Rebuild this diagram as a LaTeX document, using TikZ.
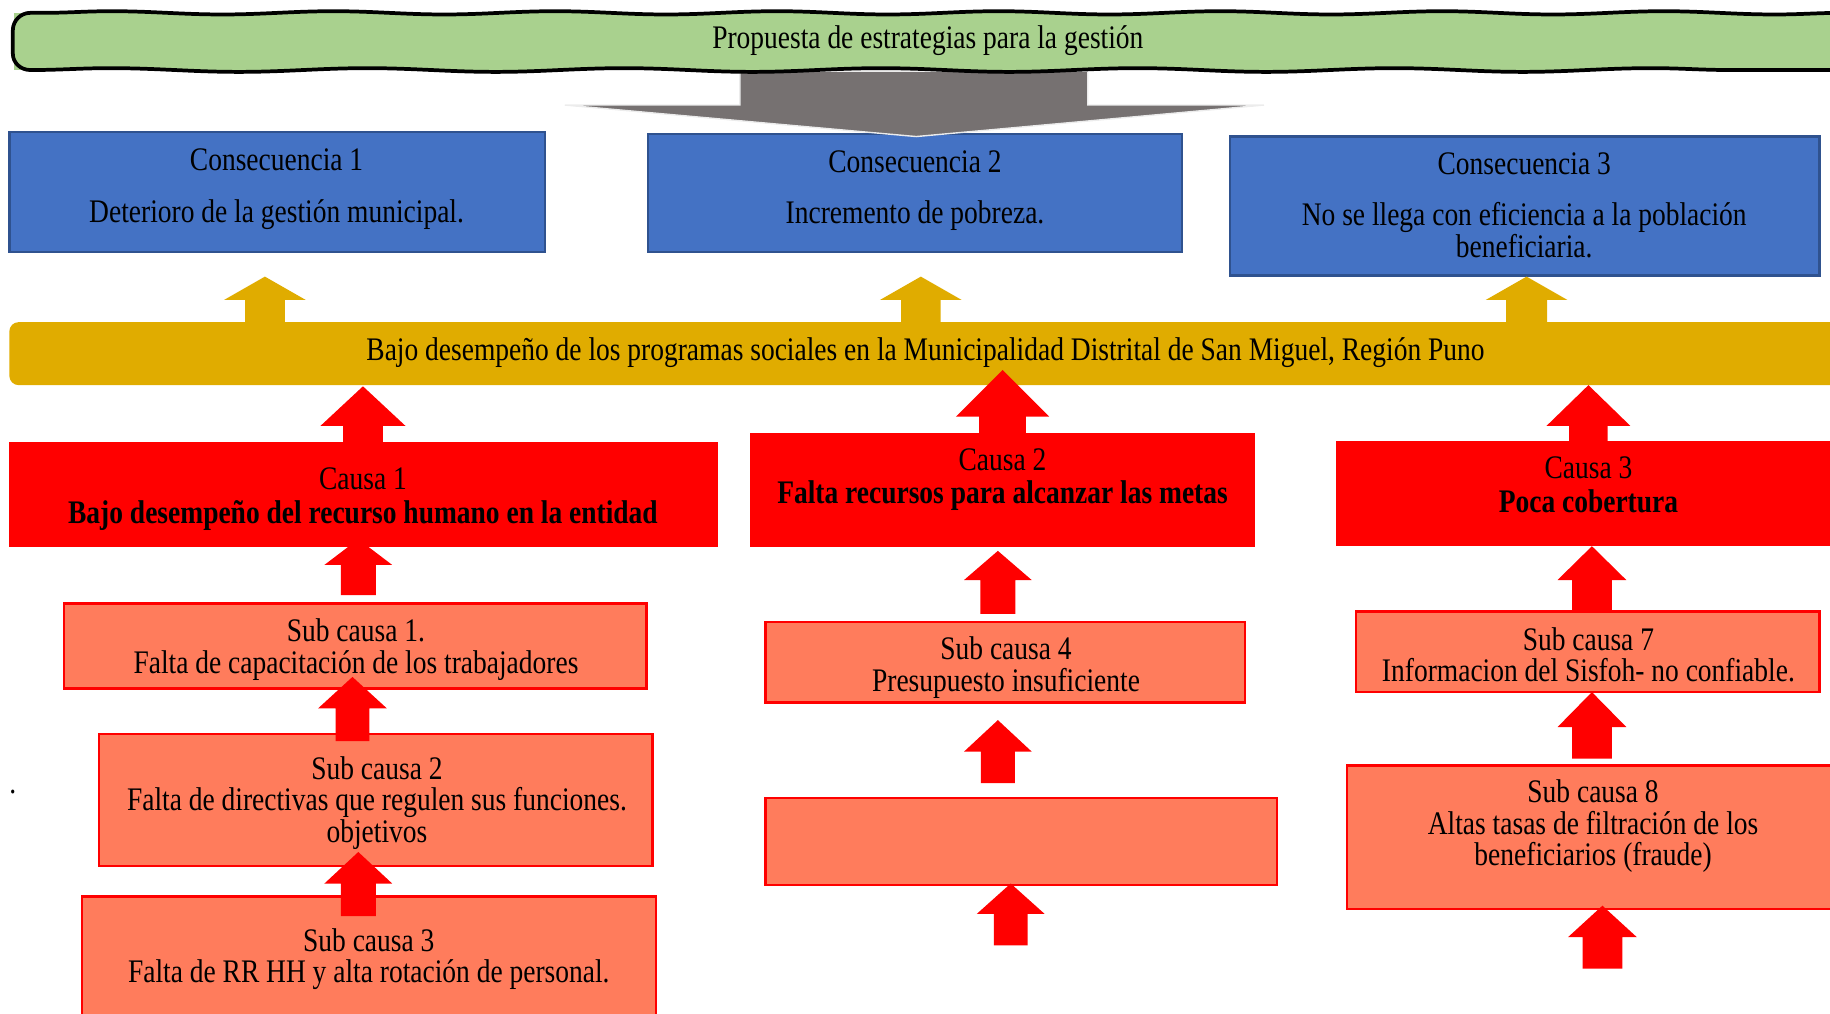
\documentclass[tikz,border=0pt]{standalone}
\usepackage{fontspec}
\setmainfont{Liberation Serif}[FakeStretch=0.835]
\usetikzlibrary{fit,decorations.pathmorphing}
\definecolor{bgreen}{RGB}{169,209,142}
\definecolor{agrey}{RGB}{118,113,113}
\definecolor{cblue}{RGB}{68,114,196}
\definecolor{cbluedark}{RGB}{47,82,143}
\definecolor{goldbar}{RGB}{224,172,0}
\definecolor{coral}{RGB}{255,124,92}
\definecolor{pured}{RGB}{255,0,0}
\newcommand\uparr[7]{\fill[#7] (#1,#2) -- ({#1+#5},#3) -- ({#1+#6},#3) -- ({#1+#6},#4) -- ({#1-#6},#4) -- ({#1-#6},#3) -- ({#1-#5},#3) -- cycle;}
\tikzset{
  consbox/.style={draw=cbluedark, line width=1pt, fill=cblue, inner sep=0pt},
  causabox/.style={fill=pured, inner sep=0pt},
  subbox/.style={draw=pured, line width=1pt, fill=coral, inner sep=0pt},
  txt/.style={align=center, inner sep=0pt, text=black},
}
\begin{document}
\begin{tikzpicture}[x=0.5pt,y=-0.5pt,font=\fontsize{14.1}{13.5}\selectfont]
\useasboundingbox (0,0) rectangle (1568,868);
\clip (0,0) rectangle (1568,868);

% consequence boxes
\node[consbox, fit={(8,113) (467,216)}] (c1) {};
\node[consbox, fit={(555,115) (1013,216)}] (c2) {};
\node[consbox, fit={(1054,117) (1559,236)}] (c3) {};
\node[txt] (c1t) at (237,162) {Consecuencia 1\\[8.5pt]Deterioro de la gestión municipal.};
\node[txt] (c2t) at (784,163.5) {Consecuencia 2\\[8.5pt]Incremento de pobreza.};
\node[txt] (c3t) at (1306,176) {Consecuencia 3\\[8.5pt]No se llega con eficiencia a la población\\beneficiaria.};

% grey arrow
\filldraw[fill=agrey, draw=white!85!gray, line width=0.6pt] (634,61) -- (932,61) -- (932,90) -- (1083,90) -- (785,117) -- (484,90) -- (634,90) -- cycle;

% banner
\node[fill=bgreen, inner sep=0pt, fit={(12,11) (1580,60)}] (prop) {};
\draw[line width=1.6pt, line join=round] decorate[decoration={snake, segment length=95pt, amplitude=0.7pt}] {(1580,11) -- (26,11)} to[out=180,in=90] (11,26) -- (11,46) to[out=-90,in=180] (26,60) decorate[decoration={snake, segment length=110pt, amplitude=0.8pt}] {-- (1580,60)};
\node[txt] (propt) at (795,35) {Propuesta de estrategias para la gestión};

% gold arrows and bar
\uparr{227}{237}{257}{278}{35}{17}{goldbar}
\uparr{789}{237}{257}{278}{35}{17}{goldbar}
\uparr{1308}{237}{257}{278}{35}{17.5}{goldbar}
\node[fill=goldbar, rounded corners=4pt, inner sep=0pt, fit={(8,276) (1590,330)}] (bar) {};
\node[txt] (bart) at (793,302) {Bajo desempeño de los programas sociales en la Municipalidad Distrital de San Miguel, Región Puno};

% cause boxes
\node[causabox, fit={(8,379) (615,469)}] (k1) {};
\node[causabox, fit={(643,371) (1075,469)}] (k2) {};
\node[causabox, fit={(1145,378) (1590,468)}] (k3) {};
\uparr{311}{331}{365}{380}{36.5}{17}{pured}
\uparr{859}{317}{357}{372}{40}{20}{pured}
\uparr{1361}{330}{365}{379}{36}{16.5}{pured}
\node[txt] (k1t) at (311,428) {Causa 1\\[1pt]\textbf{Bajo desempeño del recurso humano en la entidad}};
\node[txt] (k2t) at (859,411) {Causa 2\\[1pt]\textbf{Falta recursos para alcanzar las metas}};
\node[txt] (k3t) at (1361,415.5) {Causa 3\\[1pt]\textbf{Poca cobertura}};

% sub cause boxes
\node[subbox, fit={(55,517) (554,590)}] (s1) {};
\node[subbox, fit={(85,629) (559,742)}] (s2) {};
\node[subbox, fit={(70,768) (562,880)}] (s3) {};
\node[subbox, fit={(656,533) (1067,602)}] (s4) {};
\node[subbox, fit={(656,684) (1094,758)}] (s5) {};
\node[subbox, fit={(1162,524) (1559,593)}] (s7) {};
\node[subbox, fit={(1154,656) (1580,779)}] (s8) {};

% red arrows between sub causes
\uparr{307}{462}{484}{510}{29}{15}{pured}
\uparr{302}{580}{607}{635}{29.5}{14.5}{pured}
\uparr{307}{730}{757}{785}{29}{15}{pured}
\uparr{855}{472}{497}{526}{29}{15}{pured}
\uparr{855}{617}{644}{671}{29}{14.5}{pured}
\uparr{866}{757}{783}{810}{29}{14.5}{pured}
\uparr{1364}{468}{497}{525}{29.5}{17}{pured}
\uparr{1364}{593}{623}{650}{29.5}{17}{pured}
\uparr{1373}{776}{803}{830}{29.5}{17}{pured}

\node[txt] (s1t) at (305,556.5) {Sub causa 1.\\Falta de capacitación de los trabajadores};
\node[txt] (s2t) at (323,688) {Sub causa 2\\Falta de directivas que regulen sus funciones.\\objetivos};
\node[txt] (s3t) at (316,822) {Sub causa 3\\Falta de RR HH y alta rotación de personal.};
\node[txt] (s4t) at (862,572) {Sub causa 4\\Presupuesto insuficiente};
\node[txt] (s7t) at (1361,561) {Sub causa 7\\Informacion del Sisfoh- no confiable.};
\node[txt] (s8t) at (1365,708) {Sub causa 8\\Altas tasas de filtración de los\\beneficiarios (fraude)};
\node[txt] (dot) at (11,679) {.};
\end{tikzpicture}
\end{document}
